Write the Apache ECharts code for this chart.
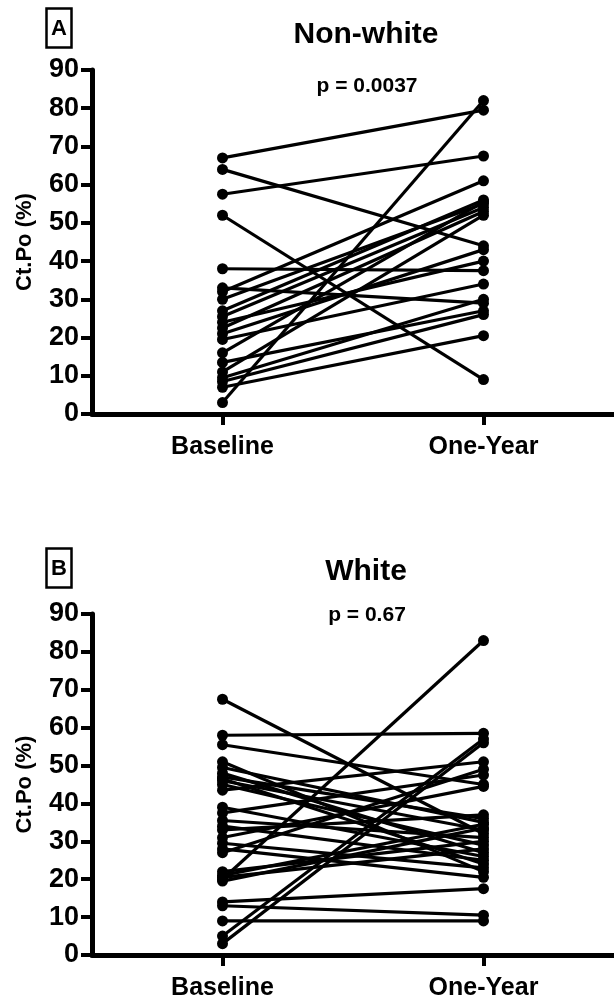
<!DOCTYPE html>
<html>
<head>
<meta charset="utf-8">
<script src="https://cdn.jsdelivr.net/npm/echarts@6/dist/echarts.min.js"></script>
<style>
html,body{margin:0;padding:0;background:#fff;}
#chart{width:614px;height:1008px;}
</style>
</head>
<body>
<div id="chart"></div>
<script>
// ---- data ----
var categories = ['Baseline', 'One-Year'];
var yTicks = [0, 10, 20, 30, 40, 50, 60, 70, 80, 90];

// Panel A: Non-white (paired subjects)
var nonWhiteBaseline = [67, 64, 57.5, 52, 38, 33, 32, 30, 27, 25.5, 24, 22.5, 21, 19.5, 16, 13.5, 11, 9.5, 8.5, 7, 3];
var nonWhiteOneYear  = [79.5, 44, 67.5, 9, 37.5, 29, 61, 55, 56, 54, 40, 53, 43, 34, 55.5, 27, 52, 30, 26, 20.5, 82];

// Panel B: White (paired subjects)
var whiteBaseline = [67.5, 58, 55.5, 51, 49.5, 48, 47, 46.5, 46, 45, 43.5, 39, 37.5, 35.5, 34, 33, 31, 29.5, 28, 27, 22, 21, 20.5, 20, 19.5, 14, 13, 9, 5, 3];
var whiteOneYear  = [32, 58.5, 45, 22, 35, 27, 36, 24, 33, 29, 51, 26, 47.5, 31, 25, 37, 44.5, 23, 20.5, 49, 30, 34.5, 28, 83, 33.5, 17.5, 10.5, 9, 57, 56];

var panelTitles = ['Non-white', 'White'];
var panelLetters = ['A', 'B'];
var pValues = ['p = 0.0037', 'p = 0.67'];
var yAxisName = 'Ct.Po (%)';

// ---- chart ----
var FONT = '"Liberation Sans Narrow", "Liberation Sans", Arial, Helvetica, sans-serif';
var FONT2 = '"Liberation Sans", Arial, Helvetica, sans-serif';
var chart = echarts.init(document.getElementById('chart'), null, {renderer: 'canvas'});

var grids = [
  {left: 92, top: 70, width: 524, height: 344},
  {left: 92, top: 614, width: 524, height: 341}
];

function xAxisFor(i) {
  return {
    type: 'category', gridIndex: i, data: categories, boundaryGap: true,
    axisLine: {lineStyle: {color: '#000', width: 5}},
    axisTick: {show: true, alignWithLabel: true, length: 11, lineStyle: {color: '#000', width: 4}},
    axisLabel: {color: '#000', fontFamily: FONT2, fontWeight: 'bold', fontSize: 25, margin: 21},
    splitLine: {show: false}
  };
}
function yAxisFor(i) {
  return {
    type: 'value', gridIndex: i, min: 0, max: 90, interval: 10,
    name: yAxisName, nameLocation: 'middle', nameGap: 56,
    nameTextStyle: {color: '#000', fontFamily: FONT2, fontWeight: 'bold', fontSize: 22},
    axisLine: {show: true, lineStyle: {color: '#000', width: 5}},
    axisTick: {show: true, length: 11, lineStyle: {color: '#000', width: 4}},
    axisLabel: {color: '#000', fontFamily: FONT, fontWeight: 'bold', fontSize: 27, margin: 13,
      formatter: function (v) { return yTicks.indexOf(v) >= 0 ? String(v) : ''; }},
    splitLine: {show: false}
  };
}

var series = [];
function addPairs(base, one, gi) {
  for (var k = 0; k < base.length; k++) {
    series.push({
      type: 'line', xAxisIndex: gi, yAxisIndex: gi,
      data: [base[k], one[k]],
      symbol: 'circle', symbolSize: 11, showSymbol: true,
      lineStyle: {color: '#000', width: 3.2},
      itemStyle: {color: '#000'},
      silent: true, animation: false
    });
  }
}
addPairs(nonWhiteBaseline, nonWhiteOneYear, 0);
addPairs(whiteBaseline, whiteOneYear, 1);

var titles = [];
var titleTops = [15, 552];
var pTops = [71, 600];
var letterTops = [8, 548];
for (var i = 0; i < 2; i++) {
  titles.push({text: panelTitles[i], left: 361, top: titleTops[i], textAlign: 'center',
    textStyle: {color: '#000', fontFamily: FONT2, fontWeight: 'bold', fontSize: 30}});
  titles.push({text: pValues[i], left: 362, top: pTops[i], textAlign: 'center',
    textStyle: {color: '#000', fontFamily: FONT2, fontWeight: 'bold', fontSize: 21}});
  titles.push({text: panelLetters[i], left: 46, top: letterTops[i],
    borderColor: '#000', borderWidth: 2.5, padding: [10, 5, 8, 5],
    textStyle: {color: '#000', fontFamily: FONT2, fontWeight: 'bold', fontSize: 22}});
}

chart.setOption({
  animation: false,
  backgroundColor: '#fff',
  title: titles,
  grid: grids,
  xAxis: [xAxisFor(0), xAxisFor(1)],
  yAxis: [yAxisFor(0), yAxisFor(1)],
  series: series
});
</script>
</body>
</html>
